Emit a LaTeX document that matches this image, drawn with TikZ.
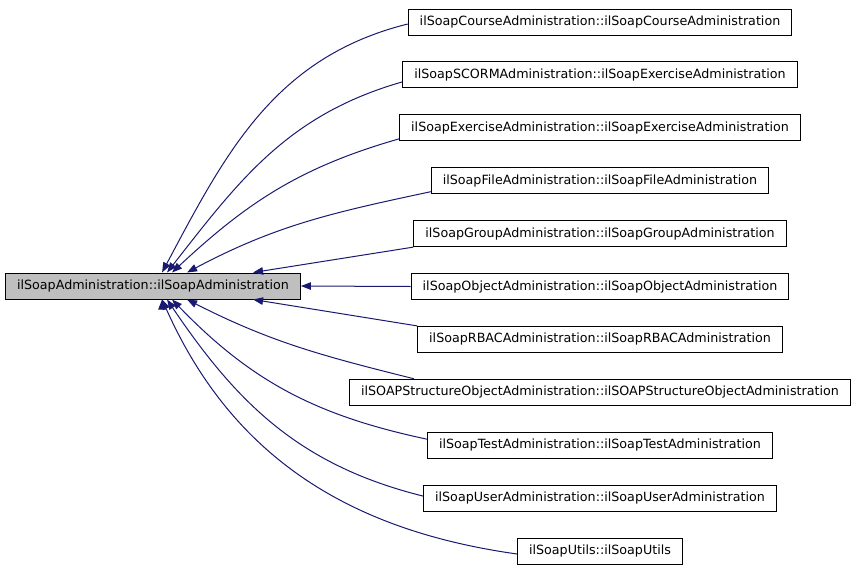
\documentclass[tikz,border=0pt]{standalone}
\usepackage{fontspec}
\setmainfont{DejaVu Sans}
\usetikzlibrary{arrows.meta,positioning}
\definecolor{edgeblue}{RGB}{25,25,112}
\tikzset{>/.tip={Triangle[length=10pt,width=7.5pt]}}
\tikzset{cls/.style={draw,line width=1pt,minimum height=26pt,inner xsep=11.5pt,font=\fontsize{12.7}{15}\selectfont}}

\begin{document}
\begin{tikzpicture}[x=1pt,y=-1pt,node distance=52.9pt,on grid]
        \useasboundingbox (0,0) rectangle (859,573);
        \node[cls,fill=black!25](base) at (153,286){ilSoapAdministration::ilSoapAdministration};
        \node[cls](course) at (600,22){ilSoapCourseAdministration::ilSoapCourseAdministration};
        \node[cls](scorm)[below=of course]{ilSoapSCORMAdministration::ilSoapExerciseAdministration};
        \node[cls](exercise)[below=of scorm]{ilSoapExerciseAdministration::ilSoapExerciseAdministration};
        \node[cls](file)[below=of exercise]{ilSoapFileAdministration::ilSoapFileAdministration};
        \node[cls](group)[below=of file]{ilSoapGroupAdministration::ilSoapGroupAdministration};
        \node[cls](object)[below=of group]{ilSoapObjectAdministration::ilSoapObjectAdministration};
        \node[cls](rbac)[below=of object]{ilSoapRBACAdministration::ilSoapRBACAdministration};
        \node[cls](struct)[below=of rbac]{ilSOAPStructureObjectAdministration::ilSOAPStructureObjectAdministration};
        \node[cls](test)[below=of struct]{ilSoapTestAdministration::ilSoapTestAdministration};
        \node[cls](user)[below=of test]{ilSoapUserAdministration::ilSoapUserAdministration};
        \node[cls](utils)[below=of user]{ilSoapUtils::ilSoapUtils};
        \draw[edgeblue,line width=1pt,<-]
        ([xshift=157pt]base.north west) edge[out=62,in=194] ([yshift=-2pt]course.west)
        ([xshift=162pt]base.north west) edge[out=52,in=196] ([yshift=-7pt]scorm.west)
        ([xshift=167pt]base.north west) edge[out=43,in=196] ([yshift=-11pt]exercise.west)
        ([xshift=182pt]base.north west) edge[out=28,in=192] ([yshift=-11pt]file.west)
        ([xshift=248pt]base.north west) edge (group.south west)
        (base.east) edge (object.west)
        ([xshift=248pt]base.south west) edge (rbac.north west)
        ([xshift=182pt]base.south west) edge[out=-27,in=166] ([xshift=65pt]struct.north west)
        ([xshift=167pt]base.south west) edge[out=-46,in=168] ([yshift=6pt]test.west)
        ([xshift=162pt]base.south west) edge[out=-56,in=166] ([yshift=2pt]user.west)
        ([xshift=157pt]base.south west) edge[out=-66,in=172] ([yshift=-3pt]utils.west);
      \end{tikzpicture}
\end{document}
